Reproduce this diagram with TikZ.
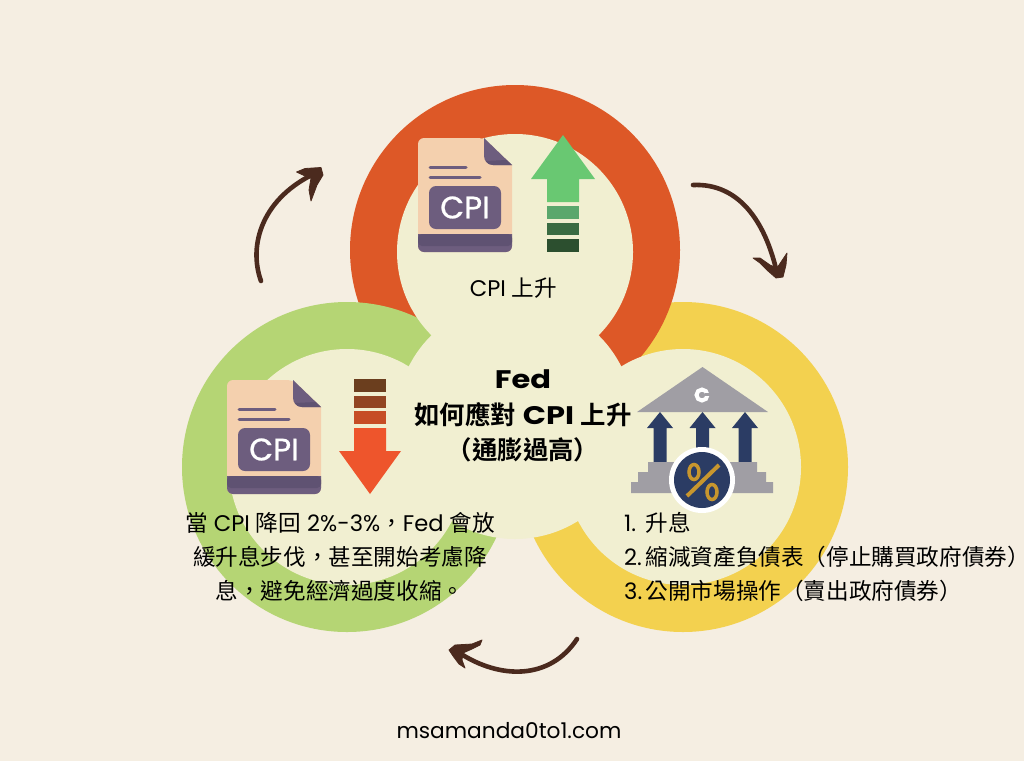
\documentclass[tikz,border=0pt]{standalone}
\usepackage{fontspec}
\setmainfont{Poppins}
\newfontfamily\cjk{Noto Sans CJK TC}
\newfontfamily\cjkh{Noto Sans CJK TC}[RawFeature=+halt]
\newfontfamily\cjkb{Noto Sans CJK TC Bold}
\newfontfamily\widef{Poppins}[BoldFont={Poppins Bold},FakeStretch=1.2]
\newfontfamily\cpif{Poppins}[FakeBold=0.8]
\definecolor{bgc}{HTML}{F5EEE2}
\definecolor{creamc}{HTML}{F1EFD1}
\definecolor{redc}{HTML}{DD5827}
\definecolor{greenc}{HTML}{B5D574}
\definecolor{yellowc}{HTML}{F3D14F}
\definecolor{peach}{HTML}{F4D0AE}
\definecolor{purp}{HTML}{6D5D7E}
\definecolor{purpd}{HTML}{5F5272}
\definecolor{brownc}{HTML}{4B2A1E}
\definecolor{navy}{HTML}{2B3C64}
\definecolor{grayc}{HTML}{A09EA4}
\definecolor{goldc}{HTML}{C8962E}
\newcommand\cpidoc[3]{%
\begin{scope}[shift={(#1,#2)}]
  \fill[peach,rounded corners=6pt] (418,252) -- (418,138) -- (484,138) [sharp corners] -- (512,165) [rounded corners=6pt] -- (512,252) -- cycle;
  \begin{scope}
    \clip (415,234) rectangle (515,255);
    \fill[purp,rounded corners=6pt] (418,215) rectangle (512,252);
  \end{scope}
  \fill[purpd,rounded corners=4pt] (418,234) -- (418,246) -- (512,246) -- (512,234) -- cycle;
  \fill[purp] (484,138) -- (512,165) -- (493,165) .. controls (488,165) and (484,161) .. (484,156) -- cycle;
  \fill[purpd] (506.5,160) -- (512,165) -- (493,165) .. controls (490,165) and (487,163.5) .. (485.5,161) -- cycle;
  \draw[purp,line width=3pt,line cap=round] (430,167) -- (466,167) (430,177) -- (480,177);
  \fill[purp,rounded corners=7pt] (429,186) rectangle (501,229);
  \node[cpilabel] (#3) at (465,207.5) {CPI};
\end{scope}}
\tikzset{
  cpilabel/.style={text=white,font=\cpif\fontsize{31}{31}\selectfont,inner sep=0pt},
  ringc/.style={circle,minimum size=330pt,inner sep=0pt},
  holec/.style={circle,fill=creamc,minimum size=236pt,inner sep=0pt},
  bodytext/.style={font=\fontsize{22.6}{34}\selectfont,text=black,inner sep=0pt},
  swoosh/.style={brownc,line width=4.6pt,line cap=round},
  tipf/.style={fill=brownc,draw=brownc,line width=0.8pt,line join=round},
  upa/.style={fill=navy},
}
\newcommand\numitem[1]{\makebox[21.5pt][l]{#1.}}
\begin{document}
\begin{tikzpicture}[x=1pt,y=-1pt]
\useasboundingbox (0,0) rectangle (1024,761);
\fill[bgc] (0,0) rectangle (1024,761);
% rings
\node[ringc,fill=yellowc] (ringY) at (683,467) {};
\node[ringc,fill=redc] (ringR) at (515,250) {};
\node[ringc,fill=greenc] (ringG) at (347,467) {};
\node[holec] (holeY) at (683,467) {};
\node[holec] (holeR) at (515,252) {};
\node[holec] (holeG) at (347,467) {};
\node[holec,minimum size=238pt] (holeC) at (515,420) {};
% doc icons
\cpidoc{0}{0}{docA}
\cpidoc{-191}{242}{docB}
% green arrow
\fill[fill={rgb,255:red,105;green,200;blue,114}] (563,135) -- (595,179) -- (579,179) -- (579,202) -- (547,202) -- (547,179) -- (531,179) -- cycle;
\fill[fill={rgb,255:red,90;green,167;blue,108}] (547,206) rectangle (579,219);
\fill[fill={rgb,255:red,58;green,107;blue,66}] (547,223) rectangle (579,235);
\fill[fill={rgb,255:red,44;green,79;blue,47}] (547,239) rectangle (579,252);
% red arrow
\fill[fill={rgb,255:red,107;green,62;blue,30}] (354,379) rectangle (386,392);
\fill[fill={rgb,255:red,146;green,69;blue,34}] (354,396) rectangle (386,408);
\fill[fill={rgb,255:red,198;green,77;blue,37}] (354,411) rectangle (386,424);
\fill[fill={rgb,255:red,238;green,85;blue,44}] (354,428) -- (386,428) -- (386,451) -- (401,451) -- (370,494) -- (339,451) -- (354,451) -- cycle;
% bank
\fill[grayc] (702.5,367) -- (768,412) -- (637,412) -- cycle;
\draw[white,line width=4pt] (702,395) circle[radius=5.5];
\draw[grayc,line width=2.5pt] (705,394.5) -- (711,394.5);
\foreach \xx in {660,702.5,745}{
  \fill[upa] (\xx,412) -- (\xx+13,428) -- (\xx+6.5,428) -- (\xx+6.5,463) -- (\xx-6.5,463) -- (\xx-6.5,428) -- (\xx-13,428) -- cycle;
}
\fill[grayc] (648,462) rectangle (757,472) (638,472) rectangle (766,482) (631,482) rectangle (773,493);
\node[circle,fill=white,minimum size=66pt,inner sep=0pt] (pctW) at (702,480) {};
\node[circle,fill=navy,minimum size=56pt,inner sep=0pt] (pctN) at (702,480) {};
\draw[goldc,line width=4pt] (687,496) -- (719,465);
\draw[goldc,line width=3.5pt] (694,472) ellipse[x radius=5,y radius=7.5] (712,492) ellipse[x radius=5,y radius=7.5];
% texts
\node[bodytext] (tCPI) at (513.5,288) {CPI {\cjk 上升}};
\node[font=\fontsize{25.4}{35.5}\selectfont,align=center,inner sep=0pt] (tFed) at (523,416) {{\widef\bfseries Fed}\\{\cjkb 如何應對} {\widef\bfseries CPI} {\cjkb 上升}\\{\cjkb （通膨過高）}};
\node[bodytext,align=center] (tLeft) at (340,557) {{\cjk 當} CPI {\cjk 降回} 2\%-3\%{\cjk ，}Fed {\cjk 會放}\\{\cjk 緩升息步伐，甚至開始考慮降}\\{\cjk 息，避免經濟過度收縮。}};
\node[bodytext,align=left,anchor=west] (tRight) at (624,557) {\numitem{1}{\cjk 升息}\\\numitem{2}{\cjk 縮減資產負債表（停止購買政府債券}{\cjkh ）}\\\numitem{3}{\cjk 公開市場操作（賣出政府債券）}};
\node[font=\fontsize{21.7}{24}\selectfont,inner sep=0pt] (tSite) at (509,731) {msamanda0to1.com};
% hand-drawn arrows
\coordinate (a1s) at (261,281);
\coordinate (a1e) at (318,172);
\draw[swoosh] (a1s) .. controls (248,245) and (262,197) .. (a1e);
\fill[tipf] (296.5,172) -- (305,168.5) -- (321,167.5) -- (323,175) -- (317,185) -- (311,201) -- (309,190) -- (311,178) -- (304,175.5) -- cycle;
\coordinate (a2s) at (693,185);
\coordinate (a2e) at (777,273);
\draw[swoosh] (a2s) .. controls (738,183) and (765,220) .. (a2e);
\fill[tipf] (753,258) -- (760,258) -- (770,265) -- (777,268) -- (781,262) -- (787,253) -- (786,265) -- (783,277) -- (776,278) -- (768,271) -- (760,263) -- cycle;
\coordinate (a3s) at (577,639);
\coordinate (a3e) at (458,652);
\draw[swoosh] (a3s) .. controls (550,680) and (500,680) .. (a3e);
\fill[tipf] (482,640) -- (472,644) -- (455,645) -- (449,650) -- (453,656) -- (459,664) -- (465,668) -- (462,660) -- (463,653) -- (472,649) -- (480,645) -- cycle;
\end{tikzpicture}
\end{document}
